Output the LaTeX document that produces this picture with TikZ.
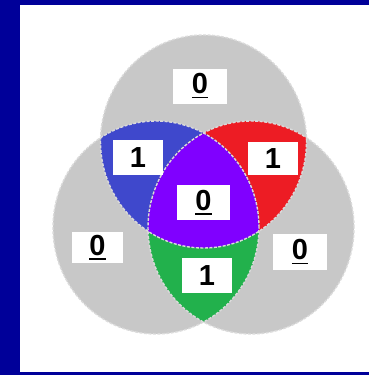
\documentclass[tikz,border=0pt]{standalone}
\usepackage{fontspec}
\setmainfont{Liberation Sans}
\definecolor{frameblue}{RGB}{0,0,153}
\definecolor{venngray}{RGB}{200,200,200}
\definecolor{vennedge}{RGB}{218,218,218}
\definecolor{vblue}{RGB}{63,72,204}
\definecolor{vred}{RGB}{237,28,36}
\definecolor{vgreen}{RGB}{34,177,76}
\definecolor{vpurple}{RGB}{128,0,255}
\newcommand\ulnum[1]{\vtop{\hbox{#1}\kern2.5pt\hrule height 1.8pt}}
\tikzset{
  labelbox/.style={fill=white, inner sep=0pt, text=black, anchor=center,
    font=\fontsize{29}{30}\selectfont\bfseries},
  vennfill/.style={fill=venngray},
  vennline/.style={draw=vennedge, line width=1.4pt, dash pattern=on 3pt off 1.5pt}
}
\begin{document}
\begin{tikzpicture}[x=1pt,y=-1pt]
\useasboundingbox (0,0) rectangle (369,375);
\fill[frameblue] (0,0) rectangle (369,375);
\fill[white] (20,5) rectangle (369,372);
% gray circles
\fill[vennfill] (203.5,141.5) ellipse [x radius=103pt, y radius=106.5pt];
\fill[vennfill] (156,227.5) ellipse [x radius=103pt, y radius=106.5pt];
\fill[vennfill] (251,227.5) ellipse [x radius=103pt, y radius=106.5pt];
% top & left: blue
\begin{scope}
  \clip (203.5,141.5) ellipse [x radius=103pt, y radius=106.5pt];
  \fill[vblue] (156,227.5) ellipse [x radius=103pt, y radius=106.5pt];
\end{scope}
% top & right: red
\begin{scope}
  \clip (203.5,141.5) ellipse [x radius=103pt, y radius=106.5pt];
  \fill[vred] (251,227.5) ellipse [x radius=103pt, y radius=106.5pt];
\end{scope}
% left & right: green
\begin{scope}
  \clip (156,227.5) ellipse [x radius=103pt, y radius=106.5pt];
  \fill[vgreen] (251,227.5) ellipse [x radius=103pt, y radius=106.5pt];
\end{scope}
% all three: purple
\begin{scope}
  \clip (203.5,141.5) ellipse [x radius=103pt, y radius=106.5pt];
  \clip (156,227.5) ellipse [x radius=103pt, y radius=106.5pt];
  \fill[vpurple] (251,227.5) ellipse [x radius=103pt, y radius=106.5pt];
\end{scope}
% outlines
\draw[vennline] (203.5,141.5) ellipse [x radius=103pt, y radius=106.5pt];
\draw[vennline] (156,227.5) ellipse [x radius=103pt, y radius=106.5pt];
\draw[vennline] (251,227.5) ellipse [x radius=103pt, y radius=106.5pt];
% labels
\node[labelbox, minimum width=54pt, minimum height=35pt] (top) at (200,86) {\ulnum{0}};
\node[labelbox, minimum width=50pt, minimum height=35pt] (ab) at (138,157.5) {1};
\node[labelbox, minimum width=50pt, minimum height=33pt] (ac) at (273,158.5) {1};
\node[labelbox, minimum width=53pt, minimum height=35pt] (abc) at (203.5,202.5) {\ulnum{0}};
\node[labelbox, minimum width=51pt, minimum height=31pt] (left) at (97.5,247.5) {\ulnum{0}};
\node[labelbox, minimum width=54pt, minimum height=36pt] (right) at (300,252) {\ulnum{0}};
\node[labelbox, minimum width=50pt, minimum height=35pt] (bc) at (207,275.5) {1};
\end{tikzpicture}
\end{document}
